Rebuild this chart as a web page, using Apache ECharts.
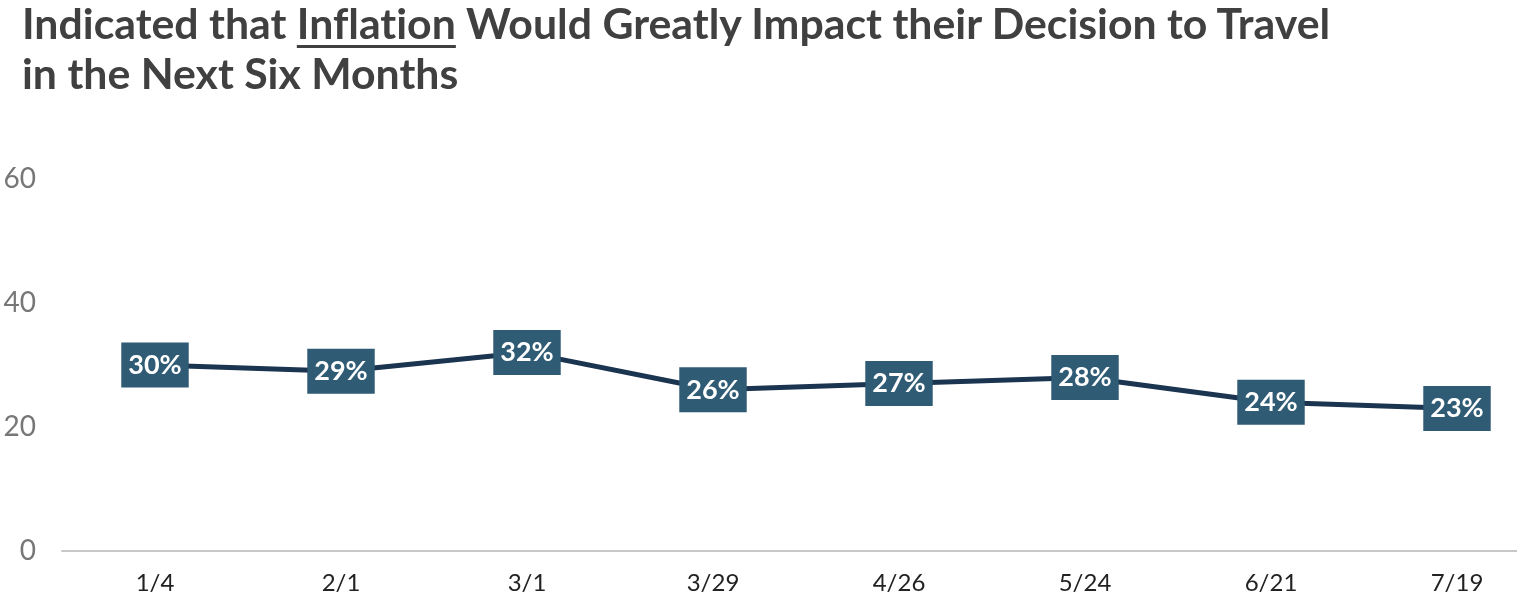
<!DOCTYPE html>
<html><head><meta charset="utf-8">
<script src="https://cdn.jsdelivr.net/npm/echarts@6/dist/echarts.min.js"></script>
<style>
html,body{margin:0;padding:0;background:#fff;}
#title{position:absolute;left:22px;top:-2px;font-family:Lato,sans-serif;font-weight:bold;font-size:42.8px;line-height:50px;color:#404041;white-space:nowrap;font-variant-ligatures:none;}
#title u{text-decoration-thickness:3px;text-underline-offset:6px;}
#chart{position:absolute;left:0;top:0;width:1517px;height:604px;}
</style></head>
<body>
<div id="chart"></div>
<div id="title">Indicated that <u>Inflation</u> Would Greatly Impact their Decision to Travel<br>in the Next Six Months</div>
<script>
const categories = ['1/4','2/1','3/1','3/29','4/26','5/24','6/21','7/19'];
const values = [30,29,32,26,27,28,24,23];
const yTicks = [0,20,40,60];
const chart = echarts.init(document.getElementById('chart'));
chart.setOption({
  animation:false,
  grid:{left:62,width:1488,top:179,bottom:53,containLabel:false,outerBoundsMode:'none'},
  xAxis:{type:'category',data:categories,boundaryGap:true,
    axisLine:{lineStyle:{color:'#c8c8c8',width:2}},axisTick:{show:false},
    axisLabel:{fontFamily:'Lato',fontSize:24,color:'#222',margin:20}},
  yAxis:{type:'value',min:yTicks[0],max:yTicks[yTicks.length-1],interval:20,
    splitLine:{show:false},axisLine:{show:false},axisTick:{show:false},
    axisLabel:{fontFamily:'Lato',fontSize:28,color:'#777',margin:26}},
  series:[{type:'line',data:values,symbol:'circle',symbolSize:1,showSymbol:true,
    itemStyle:{color:'#1b3450'},
    lineStyle:{color:'#1b3450',width:5},
    label:{show:true,position:'inside',formatter:'{c}%',fontFamily:'Lato',fontWeight:'bold',
      fontSize:27,color:'#fff',backgroundColor:'#2f5b75',padding:[10,7,8,7]}}]
});
</script>
</body></html>
